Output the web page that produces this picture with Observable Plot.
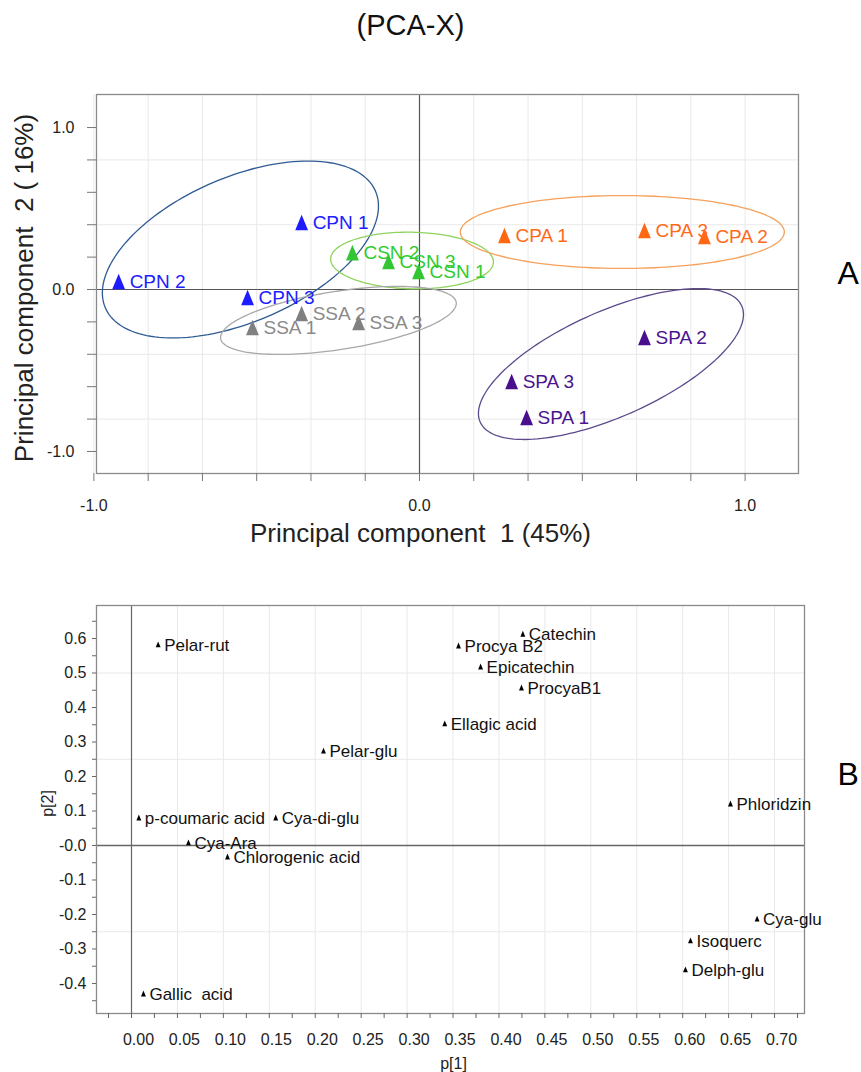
<!DOCTYPE html>
<html><head><meta charset="utf-8">
<script src="https://cdn.jsdelivr.net/npm/d3@7"></script>
<script src="https://cdn.jsdelivr.net/npm/@observablehq/plot@0.6"></script>
<style>
body{margin:0;background:#fff;}
#wrap{position:relative;width:861px;height:1072px;}
#top{position:absolute;left:0;top:0;}
#bottom{position:absolute;left:0;top:560px;}
svg text{white-space:pre;}
</style></head><body>
<div id="wrap"><div id="top"></div><div id="bottom"></div></div>
<script>
// ---------- A: PCA-X scores ----------
const sampleNames  = ["CPN 1","CPN 2","CPN 3","CSN 1","CSN 2","CSN 3","SSA 1","SSA 2","SSA 3","CPA 1","CPA 2","CPA 3","SPA 1","SPA 2","SPA 3"];
const sampleGroups = ["CPN","CPN","CPN","CSN","CSN","CSN","SSA","SSA","SSA","CPA","CPA","CPA","SPA","SPA","SPA"];
const scoreT1 = [-0.362,-0.924,-0.528,-0.003,-0.206,-0.095,-0.513,-0.362,-0.187, 0.261, 0.875, 0.691, 0.329, 0.691, 0.283];
const scoreT2 = [ 0.414, 0.049,-0.049, 0.111, 0.228, 0.173,-0.235,-0.148,-0.204, 0.333, 0.327, 0.364,-0.790,-0.296,-0.568];

// group confidence ellipses: centre, half-width (t1), half-height (t2), tilt (y-offset of side point / half-height)
const groups          = ["CPN","CSN","SSA","CPA","SPA"];
const ellipseCx       = [-0.550,-0.023,-0.249, 0.623, 0.588];
const ellipseCy       = [ 0.247, 0.179,-0.191, 0.355,-0.460];
const ellipseHalfW    = [ 0.424, 0.250, 0.362, 0.4975,0.407];
const ellipseHalfH    = [ 0.546, 0.175, 0.210, 0.225, 0.466];
const ellipseTilt     = [ 0.49, -0.05,  0.50,  0.00,  0.656];

const topXTicks      = [-1, -5/6, -4/6, -3/6, -2/6, -1/6, 0, 1/6, 2/6, 3/6, 4/6, 5/6, 1];
const topXTickValues = [-1, 0, 1];
const topXTickLabels = ["-1.0", "0.0", "1.0"];
const topYTicks      = [-1, -0.8, -0.6, -0.4, -0.2, 0, 0.2, 0.4, 0.6, 0.8, 1];
const topYTickValues = [1, 0, -1];
const topYTickLabels = ["1.0", "0.0", "-1.0"];
const topYGrid       = [-0.8, -0.4, 0.4, 0.8];

// ---------- B: loadings ----------
const compounds = ["Pelar-rut","Pelar-glu","p-coumaric acid","Cya-Ara","Chlorogenic acid","Cya-di-glu","Catechin","Procya B2","Epicatechin","ProcyaB1","Ellagic acid","Phloridzin","Cya-glu","Isoquerc","Delph-glu","Gallic  acid"];
const loadP1 = [0.029, 0.209, 0.008, 0.062, 0.1045, 0.157, 0.426, 0.356, 0.380, 0.4245, 0.341, 0.652, 0.681, 0.6085, 0.603, 0.013];
const loadP2 = [0.583, 0.275, 0.081, 0.009,-0.032,  0.081, 0.614, 0.580, 0.519, 0.458,  0.354, 0.122,-0.212,-0.275, -0.359,-0.429];

const botXTickValues = [0,0.05,0.10,0.15,0.20,0.25,0.30,0.35,0.40,0.45,0.50,0.55,0.60,0.65,0.70];
const botXTickLabels = ["0.00","0.05","0.10","0.15","0.20","0.25","0.30","0.35","0.40","0.45","0.50","0.55","0.60","0.65","0.70"];
const botYTickValues = [0.6,0.5,0.4,0.3,0.2,0.1,0,-0.1,-0.2,-0.3,-0.4];
const botYTickLabels = ["0.6","0.5","0.4","0.3","0.2","0.1","-0.0","-0.1","-0.2","-0.3","-0.4"];
const botYGrid = [0.5, 0.25, -0.25];

// ---------- rendering ----------
const FONT = "'Liberation Sans', Arial, sans-serif";
const pointColor   = {CPN:"#1c1cff", CSN:"#33c633", SSA:"#808080", CPA:"#ff6813", SPA:"#4a0f8c"};
const labelColor   = {CPN:"#2020ff", CSN:"#2fcc2f", SSA:"#8a8a8a", CPA:"#ff6a1a", SPA:"#4a1490"};
const ellipseColor = {CPN:"#2f5b94", CSN:"#8fd35c", SSA:"#a8a8a8", CPA:"#f6a15c", SPA:"#5d4a8c"};

const tallTriangle = {
  draw(ctx, size) {
    const s = Math.sqrt(size), hw = s * 0.51, h = s * 1.24;
    ctx.moveTo(0, -h / 2); ctx.lineTo(hw, h / 2); ctx.lineTo(-hw, h / 2); ctx.closePath();
  }
};

const samples = sampleNames.map((n, i) => ({name: n, group: sampleGroups[i], x: scoreT1[i], y: scoreT2[i]}));
const ellipsePts = [];
groups.forEach((g, k) => {
  const d = Math.acos(ellipseTilt[k]);
  for (let i = 0; i <= 160; i++) {
    const t = 2 * Math.PI * i / 160;
    ellipsePts.push({group: g, x: ellipseCx[k] + ellipseHalfW[k] * Math.cos(t), y: ellipseCy[k] + ellipseHalfH[k] * Math.cos(t - d)});
  }
});
const lab = (vals, labels) => d => labels[vals.findIndex(v => Math.abs(v - d) < 1e-9)];

const topMarks = [
  Plot.ruleX(topXTicks.filter(v => v !== 0), {stroke: "#e9e9e9"}),
  Plot.ruleY(topYGrid, {stroke: "#e9e9e9"}),
  Plot.ruleX([0], {stroke: "#555", strokeWidth: 1.2}),
  Plot.ruleY([0], {stroke: "#555", strokeWidth: 1.2}),
  Plot.frame({stroke: "#8a8a8a", strokeWidth: 1.3}),
  Plot.axisX(topXTicks, {anchor: "bottom", tickSize: 8, tickFormat: () => "", label: null, stroke: "#777"}),
  Plot.axisX(topXTickValues, {anchor: "bottom", tickSize: 0, tickPadding: 26, fontSize: 16, label: null, fill: "#222", tickFormat: lab(topXTickValues, topXTickLabels)}),
  Plot.axisY(topYTicks, {anchor: "left", tickSize: 9, tickFormat: () => "", label: null, stroke: "#777"}),
  Plot.axisY(topYTickValues, {anchor: "left", tickSize: 0, tickPadding: 22, fontSize: 16, label: null, fill: "#222", tickFormat: lab(topYTickValues, topYTickLabels)}),
  ...groups.map(g => Plot.line(ellipsePts.filter(p => p.group === g), {x: "x", y: "y", stroke: ellipseColor[g], strokeWidth: 1.3})),
  ...groups.map(g => Plot.dot(samples.filter(p => p.group === g), {x: "x", y: "y", r: 7.1, symbol: tallTriangle, fill: pointColor[g], stroke: "none"})),
  ...groups.map(g => Plot.text(samples.filter(p => p.group === g), {x: "x", y: "y", text: "name", dx: 11, textAnchor: "start", lineAnchor: "middle", fontSize: 19, fill: labelColor[g]})),
  Plot.text(["Principal component  1 (45%)"], {text: d => d, frameAnchor: "bottom", textAnchor: "middle", dx: -27, dy: 60, lineAnchor: "middle", fontSize: 26, fill: "#222"}),
  Plot.text(["Principal component  2 ( 16%)"], {text: d => d, frameAnchor: "left", textAnchor: "middle", rotate: -90, dx: -72, dy: 4, lineAnchor: "middle", fontSize: 26, fill: "#222"}),
  Plot.text(["(PCA-X)"], {text: d => d, frameAnchor: "top", textAnchor: "middle", dx: -37, dy: -69, lineAnchor: "middle", fontSize: 29, fill: "#111"}),
  Plot.text(["A"], {text: d => d, frameAnchor: "right", dx: 39, dy: -10, textAnchor: "start", lineAnchor: "middle", fontSize: 32, fill: "#000"})
];

const topChart = Plot.plot({
  width: 861, height: 560,
  marginTop: 94, marginBottom: 87, marginLeft: 96, marginRight: 63,
  x: {domain: [-0.992, 1.164], axis: null},
  y: {domain: [-1.136, 1.204], axis: null},
  style: {fontFamily: FONT, fontSize: "16px", background: "#fff", overflow: "visible"},
  marks: topMarks
});
document.getElementById("top").append(topChart);

const loads = compounds.map((n, i) => ({name: n, x: loadP1[i], y: loadP2[i]}));
const botMinorX = d3.range(-1, 30).map(k => k * 0.025);
const botMinorY = d3.range(-9, 14).map(k => k * 0.05);

const botChart = Plot.plot({
  width: 861, height: 512,
  marginTop: 45, marginBottom: 59, marginLeft: 96, marginRight: 57,
  x: {domain: [-0.0381, 0.7326], axis: null},
  y: {domain: [-0.487, 0.6957], axis: null},
  style: {fontFamily: FONT, fontSize: "16px", background: "#fff", overflow: "visible"},
  marks: [
    Plot.ruleX(botXTickValues.filter(v => v !== 0), {stroke: "#e9e9e9"}),
    Plot.ruleY(botYGrid, {stroke: "#e9e9e9"}),
    Plot.ruleX([0], {stroke: "#666", strokeWidth: 1.2}),
    Plot.ruleY([0], {stroke: "#666", strokeWidth: 1.5}),
    Plot.frame({stroke: "#8a8a8a", strokeWidth: 1.3}),
    Plot.axisX(botMinorX, {anchor: "bottom", tickSize: 5, tickFormat: () => "", label: null, stroke: "#666"}),
    Plot.axisX(botXTickValues, {anchor: "bottom", tickSize: 0, tickPadding: 20, dx: 7, fontSize: 16, label: null, fill: "#222", tickFormat: lab(botXTickValues, botXTickLabels)}),
    Plot.axisY(botMinorY, {anchor: "left", tickSize: 4, tickFormat: () => "", label: null, stroke: "#666"}),
    Plot.axisY(botYTickValues, {anchor: "left", tickSize: 0, tickPadding: 10, fontSize: 16, label: null, fill: "#222", tickFormat: lab(botYTickValues, botYTickLabels)}),
    Plot.dot(loads, {x: "x", y: "y", r: 2.7, symbol: tallTriangle, fill: "#000", stroke: "none"}),
    Plot.text(loads, {x: "x", y: "y", text: "name", dx: 6, dy: 1, textAnchor: "start", lineAnchor: "middle", fontSize: 17, fill: "#111"}),
    Plot.text(["p[1]"], {text: d => d, frameAnchor: "bottom", textAnchor: "middle", dx: 3, dy: 50, lineAnchor: "middle", fontSize: 16, fill: "#222"}),
    Plot.text(["p[2]"], {text: d => d, frameAnchor: "left", textAnchor: "middle", rotate: -90, dx: -49, dy: -6, lineAnchor: "middle", fontSize: 16, fill: "#222"}),
    Plot.text(["B"], {text: d => d, frameAnchor: "right", dx: 33, dy: -35, textAnchor: "start", lineAnchor: "middle", fontSize: 32, fill: "#000"})
  ]
});
document.getElementById("bottom").append(botChart);
</script>
</body></html>
